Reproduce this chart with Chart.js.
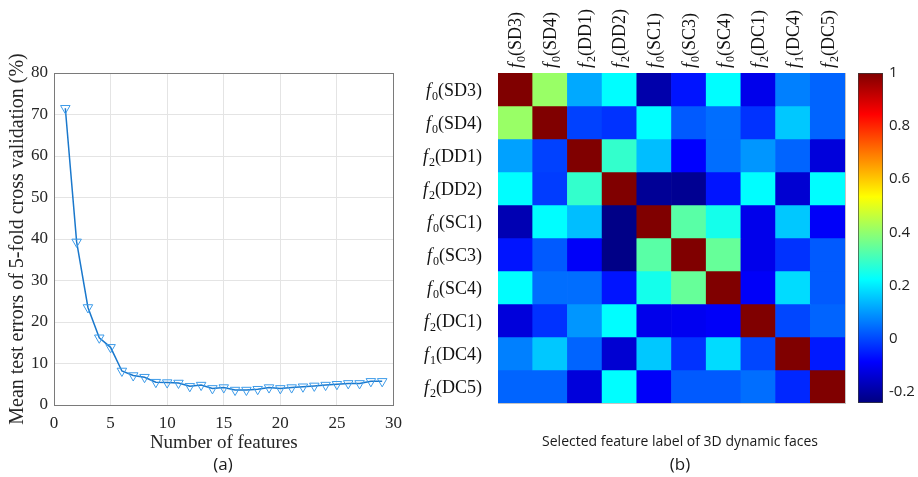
<!DOCTYPE html>
<html><head><meta charset="utf-8">
<script src="https://cdn.jsdelivr.net/npm/chart.js@4.4.1/dist/chart.umd.min.js"></script>
<style>
html,body{margin:0;padding:0;background:#fff;width:918px;height:477px;overflow:hidden;}
.box{position:absolute;}
.cap{position:absolute;transform:translate(-50%,-50%);white-space:nowrap;color:#1a1a1a;font-family:'Open Sans',sans-serif;}
</style></head><body>
<div class="box" style="left:0;top:0;width:410px;height:477px"><canvas id="c1"></canvas></div>
<div class="box" style="left:410px;top:0;width:440px;height:477px"><canvas id="c2"></canvas></div>
<div class="box" style="left:850px;top:0;width:68px;height:477px"><canvas id="c3"></canvas></div>
<div class="cap" style="left:223px;top:463px;font-size:17px">(a)</div>
<div class="cap" style="left:680px;top:440px;font-size:14px">Selected feature label of 3D dynamic faces</div>
<div class="cap" style="left:680px;top:463px;font-size:17px">(b)</div>
<script>
// ---------- data: panel (a) ----------
const featureCounts = [1,2,3,4,5,6,7,8,9,10,11,12,13,14,15,16,17,18,19,20,21,22,23,24,25,26,27,28,29];
const meanErrors = [71.5,39.3,23.5,16.2,13.9,8.2,7.1,6.7,5.5,5.4,5.3,4.5,4.8,4.0,4.2,3.6,3.6,3.8,4.2,4.0,4.2,4.4,4.6,4.8,5.0,5.2,5.2,5.7,5.7];
const xTicksA = [0,5,10,15,20,25,30];
const yTicksA = [0,10,20,30,40,50,60,70,80];

// ---------- data: panel (b) ----------
const featureLabels = ['f0(SD3)','f0(SD4)','f2(DD1)','f2(DD2)','f0(SC1)','f0(SC3)','f0(SC4)','f2(DC1)','f1(DC4)','f2(DC5)'];
const rowSD3 = [1, 0.41, 0.118, 0.222, -0.19, -0.063, 0.222, -0.112, 0.068, 0.034];
const rowSD4 = [0.41, 1, -0.009, -0.027, 0.222, 0.022, 0.047, -0.027, 0.156, 0.034];
const rowDD1 = [0.108, -0.009, 1, 0.285, 0.144, -0.088, 0.047, 0.095, 0.034, -0.131];
const rowDD2 = [0.222, -0.014, 0.285, 1, -0.215, -0.22, -0.063, 0.222, -0.143, 0.222];
const rowSC1 = [-0.18, 0.222, 0.144, -0.234, 1, 0.332, 0.248, -0.112, 0.156, -0.095];
const rowSC3 = [-0.063, 0.022, -0.095, -0.234, 0.332, 1, 0.347, -0.112, -0.027, 0.022];
const rowSC4 = [0.222, 0.047, 0.047, -0.063, 0.248, 0.347, 1, -0.095, 0.181, 0.022];
const rowDC1 = [-0.131, -0.027, 0.095, 0.222, -0.112, -0.105, -0.095, 1, -0.002, 0.034];
const rowDC4 = [0.068, 0.156, 0.034, -0.143, 0.156, -0.027, 0.181, -0.002, 1, -0.057];
const rowDC5 = [0.034, 0.034, -0.131, 0.222, -0.095, 0.022, 0.022, 0.047, -0.04, 1];
const corrRows = [rowSD3,rowSD4,rowDD1,rowDD2,rowSC1,rowSC3,rowSC4,rowDC1,rowDC4,rowDC5];
const colorMin = -0.243, colorMax = 1;
const colorbarTicks = [-0.2,0,0.2,0.4,0.6,0.8,1];

// ---------- helpers ----------
function clamp(v){return Math.max(0,Math.min(1,v));}
function jetT(t){
  const r=clamp(1.5-Math.abs(4*t-3)), g=clamp(1.5-Math.abs(4*t-2)), b=clamp(1.5-Math.abs(4*t-1));
  return 'rgb('+Math.round(r*255)+','+Math.round(g*255)+','+Math.round(b*255)+')';
}
function jetColor(v){return jetT(clamp((v-colorMin)/(colorMax-colorMin)));}
const SERIF='"Liberation Serif", "Times New Roman", serif';

// ---------- chart (a) ----------
new Chart(document.getElementById('c1'), {
  type:'line',
  data:{datasets:[{
    data: featureCounts.map((x,i)=>({x:x,y:meanErrors[i]})),
    borderColor:'#1a78cc', borderWidth:1.5, tension:0,
    pointStyle:'triangle', pointRotation:180, pointRadius:5.5,
    pointBorderColor:'#3d9be9', pointBackgroundColor:'rgba(255,255,255,0)', pointBorderWidth:1
  }]},
  options:{
    responsive:true, maintainAspectRatio:false, animation:false,
    layout:{padding:{left:0,top:73,right:13,bottom:0}},
    plugins:{legend:{display:false},tooltip:{enabled:false}},
    scales:{
      x:{type:'linear',position:'bottom',min:0,max:30,
        afterBuildTicks:s=>{s.ticks=xTicksA.map(v=>({value:v}));},
        afterFit:s=>{s.height=72;},
        grid:{color:'#e4e4e4',drawTicks:false},
        border:{color:'#7a7a7a',width:1},
        ticks:{padding:8,color:'#262626',font:{family:SERIF,size:17}},
        title:{display:true,text:'Number of features',color:'#262626',font:{family:SERIF,size:19,lineHeight:1.2},padding:{top:0,bottom:23}}
      },
      y:{type:'linear',position:'left',min:0,max:80,
        afterBuildTicks:s=>{s.ticks=yTicksA.map(v=>({value:v}));},
        afterFit:s=>{s.width=54;},
        grid:{color:'#e4e4e4',drawTicks:false},
        border:{color:'#7a7a7a',width:1},
        ticks:{padding:6,color:'#262626',font:{family:SERIF,size:17}},
        title:{display:true,text:'Mean test errors of 5-fold cross validation (%)',color:'#262626',font:{family:SERIF,size:20,lineHeight:1.2},padding:{top:6,bottom:0}}
      },
      xTop:{type:'linear',position:'top',min:0,max:30,afterFit:s=>{s.height=0;},
        ticks:{display:false},grid:{display:false},border:{color:'#7a7a7a',width:1}},
      yRight:{type:'linear',position:'right',min:0,max:80,afterFit:s=>{s.width=0;},
        ticks:{display:false},grid:{display:false},border:{color:'#7a7a7a',width:1}}
    }
  }
});

// ---------- chart (b): heatmap ----------
function drawFeatureLabel(ctx, lab, xAnchor, yCenter, alignRight){
  const fMain='18px '+SERIF, fItal='italic 18px '+SERIF, fSub='12px '+SERIF;
  const p0=lab.charAt(0), p1=lab.charAt(1), p2=lab.slice(2);
  ctx.font=fItal; const w0=ctx.measureText(p0).width;
  ctx.font=fSub; const w1=ctx.measureText(p1).width;
  ctx.font=fMain; const w2=ctx.measureText(p2).width;
  let x=alignRight ? xAnchor-(w0+1+w1+w2) : xAnchor;
  const base=yCenter+6;
  ctx.textAlign='left'; ctx.textBaseline='alphabetic';
  ctx.font=fItal; ctx.fillText(p0,x,base); x+=w0+1;
  ctx.font=fSub; ctx.fillText(p1,x,base+4); x+=w1;
  ctx.font=fMain; ctx.fillText(p2,x,base);
}
const labelPlugin={
  id:'featureLabels',
  afterDraw(chart){
    const ctx=chart.ctx, xs=chart.scales.x, ys=chart.scales.y, area=chart.chartArea;
    ctx.save(); ctx.fillStyle='#111';
    featureLabels.forEach((lab,i)=>{
      drawFeatureLabel(ctx, lab, area.left-16, ys.getPixelForValue(i+0.5), true);
      ctx.save();
      ctx.translate(xs.getPixelForValue(i), area.top-5);
      ctx.rotate(-Math.PI/2);
      drawFeatureLabel(ctx, lab, 0, 0, false);
      ctx.restore();
    });
    ctx.restore();
  }
};
new Chart(document.getElementById('c2'), {
  type:'bar',
  data:{
    labels: featureLabels,
    datasets: corrRows.map(row=>({
      data: row.map(()=>1),
      backgroundColor: row.map(v=>jetColor(v)),
      borderWidth:0, barPercentage:1, categoryPercentage:1
    }))
  },
  options:{
    responsive:true, maintainAspectRatio:false, animation:false,
    layout:{padding:{left:0,top:0,right:5,bottom:74}},
    plugins:{legend:{display:false},tooltip:{enabled:false}},
    scales:{
      x:{type:'category',position:'top',stacked:true,afterFit:s=>{s.height=73;},
        ticks:{display:false},grid:{display:false},border:{color:'#c4c4c4',width:1}},
      y:{type:'linear',position:'left',stacked:true,min:0,max:10,reverse:true,afterFit:s=>{s.width=88;},
        ticks:{display:false},grid:{display:false},border:{color:'#c4c4c4',width:1}},
      xB:{type:'linear',position:'bottom',min:0,max:10,afterFit:s=>{s.height=0;},
        ticks:{display:false},grid:{display:false},border:{color:'#c4c4c4',width:1}},
      yR:{type:'linear',position:'right',min:0,max:10,afterFit:s=>{s.width=0;},
        ticks:{display:false},grid:{display:false},border:{color:'#c4c4c4',width:1}}
    }
  },
  plugins:[labelPlugin]
});

// ---------- colorbar ----------
new Chart(document.getElementById('c3'), {
  type:'bar',
  data:{labels:[''],datasets:[{
    data:[[colorMin,colorMax]],
    backgroundColor:(c)=>{
      const ch=c.chart; if(!ch.chartArea) return '#000';
      const ys=ch.scales.y;
      const g=ch.ctx.createLinearGradient(0,ys.getPixelForValue(colorMin),0,ys.getPixelForValue(colorMax));
      for(let k=0;k<=64;k++){g.addColorStop(k/64,jetT(k/64));}
      return g;
    },
    borderColor:'#3a3a3a', borderWidth:1, borderSkipped:false,
    barPercentage:1, categoryPercentage:1
  }]},
  options:{
    responsive:true, maintainAspectRatio:false, animation:false,
    layout:{padding:{left:8,top:73,right:0,bottom:74}},
    plugins:{legend:{display:false},tooltip:{enabled:false}},
    scales:{
      x:{display:false},
      y:{type:'linear',position:'right',min:colorMin,max:colorMax,
        afterBuildTicks:s=>{s.ticks=colorbarTicks.map(v=>({value:v}));},
        afterFit:s=>{s.width=35;},
        grid:{display:false,drawTicks:false},border:{display:false},
        ticks:{padding:6,color:'#222',font:{family:'"Open Sans", sans-serif',size:15},
          callback:(v)=>String(Math.round(v*10)/10)}
      }
    }
  }
});
</script>
</body></html>
